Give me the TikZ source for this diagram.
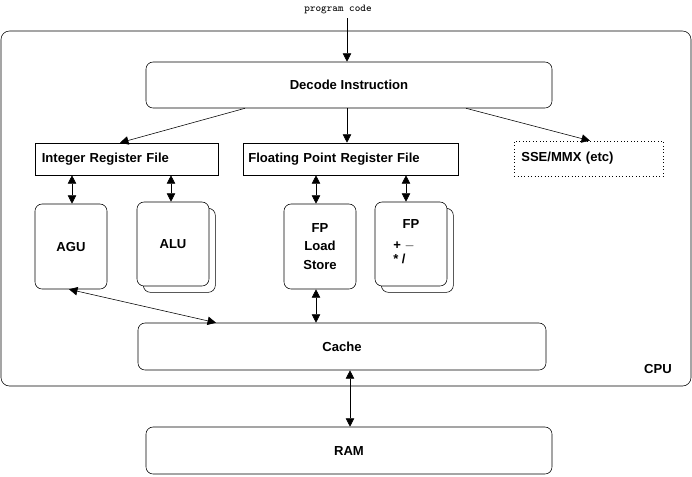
\documentclass[tikz,border=0pt]{standalone}
\usepackage{fontspec}
\setmainfont{Liberation Sans}
\usetikzlibrary{arrows.meta,shadows}
\tikzstyle{unit}=[draw,rounded corners=5pt,fill=white,font=\fontsize{9.3}{11}\selectfont\bfseries,align=center,inner sep=0pt]
\tikzstyle{regfile}=[draw,font=\fontsize{9.3}{11}\selectfont\bfseries,inner sep=0pt,anchor=west]
\tikzstyle{multi}=[copy shadow={shadow xshift=4.5pt,shadow yshift=-4.5pt}]
\tikzstyle{link}=[{Triangle[length=6pt,width=6pt]}-{Triangle[length=6pt,width=6pt]}]
\tikzstyle{flow}=[-{Triangle[length=6pt,width=6pt]}]

\begin{document}
\begin{tikzpicture}[x=0.025cm,y=-0.025cm]
        \useasboundingbox (0,0) rectangle (692,476);
        % cpu frame
        \node[draw,rounded corners=6pt,minimum width=690*0.025cm,minimum height=355*0.025cm,inner sep=0pt] (cpu) at (346,208.5){};
        \node[font=\fontsize{9.3}{11}\selectfont\bfseries] (cpulabel) at (658,369){CPU};
        \node[font=\ttfamily\fontsize{7.5}{8}\selectfont] (code) at (338,9){program code};
        \coordinate (codeend) at (347,16);

        % decode and register files
        \node[unit,minimum width=406*0.025cm,minimum height=46*0.025cm] (decode) at (349,85){Decode Instruction};
        \node[regfile,minimum width=183*0.025cm,minimum height=32*0.025cm,text width=170*0.025cm] (intrf) at (35,159){Integer Register File};
        \node[regfile,minimum width=215*0.025cm,minimum height=32*0.025cm,text width=205*0.025cm] (fprf) at (243,159){Floating Point Register File};
        \node[regfile,dotted,minimum width=149*0.025cm,minimum height=35*0.025cm,text width=135*0.025cm] (sse) at (514,158.5){SSE/MMX (etc)};

        % execution units
        \node[unit,minimum width=72*0.025cm,minimum height=85*0.025cm] (agu) at (71,246.5){AGU};
        \node[unit,multi,minimum width=72*0.025cm,minimum height=84*0.025cm] (alu) at (173,244){ALU};
        \node[unit,minimum width=72*0.025cm,minimum height=85*0.025cm] (fpls) at (320,246.5){FP\\[2pt]Load\\[2pt]Store};
        \node[unit,multi,minimum width=72*0.025cm,minimum height=84*0.025cm] (fparith) at (411,244){FP\\[6pt]\begin{tabular}{@{}l@{}}+ $-$\\[-1pt] * /\end{tabular}\hspace*{10pt}};

        % memory
        \node[unit,minimum width=408*0.025cm,minimum height=47*0.025cm] (cache) at (342,346.5){Cache};
        \node[unit,minimum width=406*0.025cm,minimum height=47*0.025cm] (ram) at (349,450.5){RAM};

        % connections
        \draw[flow] (code.south -| codeend) -- (decode.north -| codeend);
        \draw[flow] (decode.south -| 245,0) -- (intrf.north -| 120,0);
        \draw[flow] (decode.south -| 347,0) -- (fprf.north -| 347,0);
        \draw[flow] (decode.south -| 466,0) -- (sse.north -| 590,0);
        \draw[link] (intrf.south -| 72,0) -- (agu.north -| 72,0);
        \draw[link] (intrf.south -| 171,0) -- (alu.north -| 171,0);
        \draw[link] (fprf.south -| 316,0) -- (fpls.north -| 316,0);
        \draw[link] (fprf.south -| 406,0) -- (fparith.north -| 406,0);
        \draw[link] (agu.south -| 69,0) -- (cache.north -| 216,0);
        \draw[link] (fpls.south -| 316,0) -- (cache.north -| 316,0);
        \draw[link] (cache.south -| 350,0) -- (ram.north -| 350,0);
\end{tikzpicture}
\end{document}
